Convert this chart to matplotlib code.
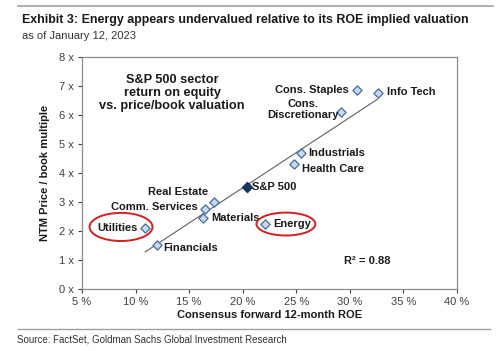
import numpy as np
import matplotlib.pyplot as plt
from matplotlib.patches import Ellipse
from matplotlib.lines import Line2D

plt.rcParams.update({
    "font.family": ["Liberation Sans", "DejaVu Sans"],
})

# sector data
sectors = ['Info Tech', 'Cons. Staples', 'Cons.\nDiscretionary', 'Industrials',
           'Health Care', 'Real Estate', 'Comm. Services', 'Materials',
           'Utilities', 'Financials', 'Energy']
roe = [32.6, 30.7, 29.2, 25.4, 24.8, 17.3, 16.5, 16.3, 10.9, 12.0, 22.1]
pb = [6.76, 6.86, 6.10, 4.69, 4.31, 3.00, 2.76, 2.45, 2.10, 1.52, 2.24]
spx_roe = 20.4
spx_pb = 3.52

# trend line end points
trend_x = [10.9, 32.6]
trend_y = [1.28, 6.55]

x_ticks = [5, 10, 15, 20, 25, 30, 35, 40]
y_ticks = [0, 1, 2, 3, 4, 5, 6, 7, 8]

# label offsets in pixels + alignment
label_pos = {
    'Info Tech': (9, 1, 'left'),
    'Cons. Staples': (-9, 0, 'right'),
    'Cons.\nDiscretionary': (-38, 3, 'center'),
    'Industrials': (8, 0, 'left'),
    'Health Care': (8, -5, 'left'),
    'Real Estate': (-36, 10, 'center'),
    'Comm. Services': (-7, 2, 'right'),
    'Materials': (8, 0, 'left'),
    'Utilities': (-7, 0, 'right'),
    'Financials': (6, -3, 'left'),
    'Energy': (8, 0, 'left'),
}

fig = plt.figure(figsize=(5.0, 3.51), dpi=100)
ax = fig.add_axes([0.164, 0.1766, 0.75, 0.661])

ax.plot(trend_x, trend_y, color='#606060', lw=0.8, zorder=1)
ax.scatter(roe, pb, marker='D', s=22, facecolor='#c5d9f1', edgecolor='#4a6c9b',
           linewidth=0.9, zorder=3)
ax.scatter([spx_roe], [spx_pb], marker='D', s=26, facecolor='#17375e',
           edgecolor='#17375e', zorder=3)

for name, x, y in zip(sectors, roe, pb):
    dx, dy, ha = label_pos[name]
    ax.annotate(name, (x, y), xytext=(dx, dy), textcoords='offset pixels',
                ha=ha, va='center', fontsize=8, fontweight='bold',
                color='#1a1a1a', multialignment='center', linespacing=1.1)
ax.annotate('S&P 500', (spx_roe, spx_pb), xytext=(5, 0), textcoords='offset pixels',
            ha='left', va='center', fontsize=8, fontweight='bold', color='#1a1a1a')

# red circles
ax.add_patch(Ellipse((8.64, 2.14), 5.88, 0.97, fill=False, edgecolor='#d42020', lw=1.4, zorder=4))
ax.add_patch(Ellipse((24.03, 2.24), 5.5, 0.79, fill=False, edgecolor='#d42020', lw=1.4, zorder=4))

ax.text(13.4, 6.76, 'S&P 500 sector\nreturn on equity\nvs. price/book valuation',
        ha='center', va='center', fontsize=9.2, fontweight='bold', linespacing=1.12,
        color='#1a1a1a')
ax.text(31.6, 0.95, 'R² = 0.88', ha='center', va='center', fontsize=8,
        fontweight='bold', color='#1a1a1a')

ax.set_xlim(5, 40)
ax.set_ylim(0, 8)
ax.set_xticks(x_ticks)
ax.set_xticklabels([f'{t} %' for t in x_ticks])
ax.set_yticks(y_ticks)
ax.set_yticklabels([f'{t} x' for t in y_ticks])
ax.tick_params(labelsize=8, colors='#404040', length=3, width=0.8, pad=3)
for sp in ax.spines.values():
    sp.set_color('#8c8c8c')
    sp.set_linewidth(0.9)

ax.set_xlabel('Consensus forward 12-month ROE', fontsize=8, fontweight='bold',
              color='#1a1a1a', labelpad=2)
ax.set_ylabel('NTM Price / book multiple', fontsize=8, fontweight='bold',
              color='#1a1a1a', labelpad=6)

# header and footer
fig.add_artist(Line2D([0.036, 0.986], [1 - 6 / 351, 1 - 6 / 351], color='#a0a0a0', lw=1.2))
fig.text(0.044, 1 - 20 / 351, 'Exhibit 3: Energy appears undervalued relative to its ROE implied valuation',
         fontsize=8.9, fontweight='bold', va='center', color='#1a1a1a')
fig.text(0.044, 1 - 36 / 351, 'as of January 12, 2023', fontsize=8, va='center', color='#333333')
fig.add_artist(Line2D([0.036, 0.98], [1 - 329 / 351, 1 - 329 / 351], color='#a0a0a0', lw=1.0))
fig.text(0.034, 1 - 340 / 351, 'Source: FactSet, Goldman Sachs Global Investment Research',
         fontsize=7, va='center', color='#333333')

fig.savefig('out.png', dpi=100)
